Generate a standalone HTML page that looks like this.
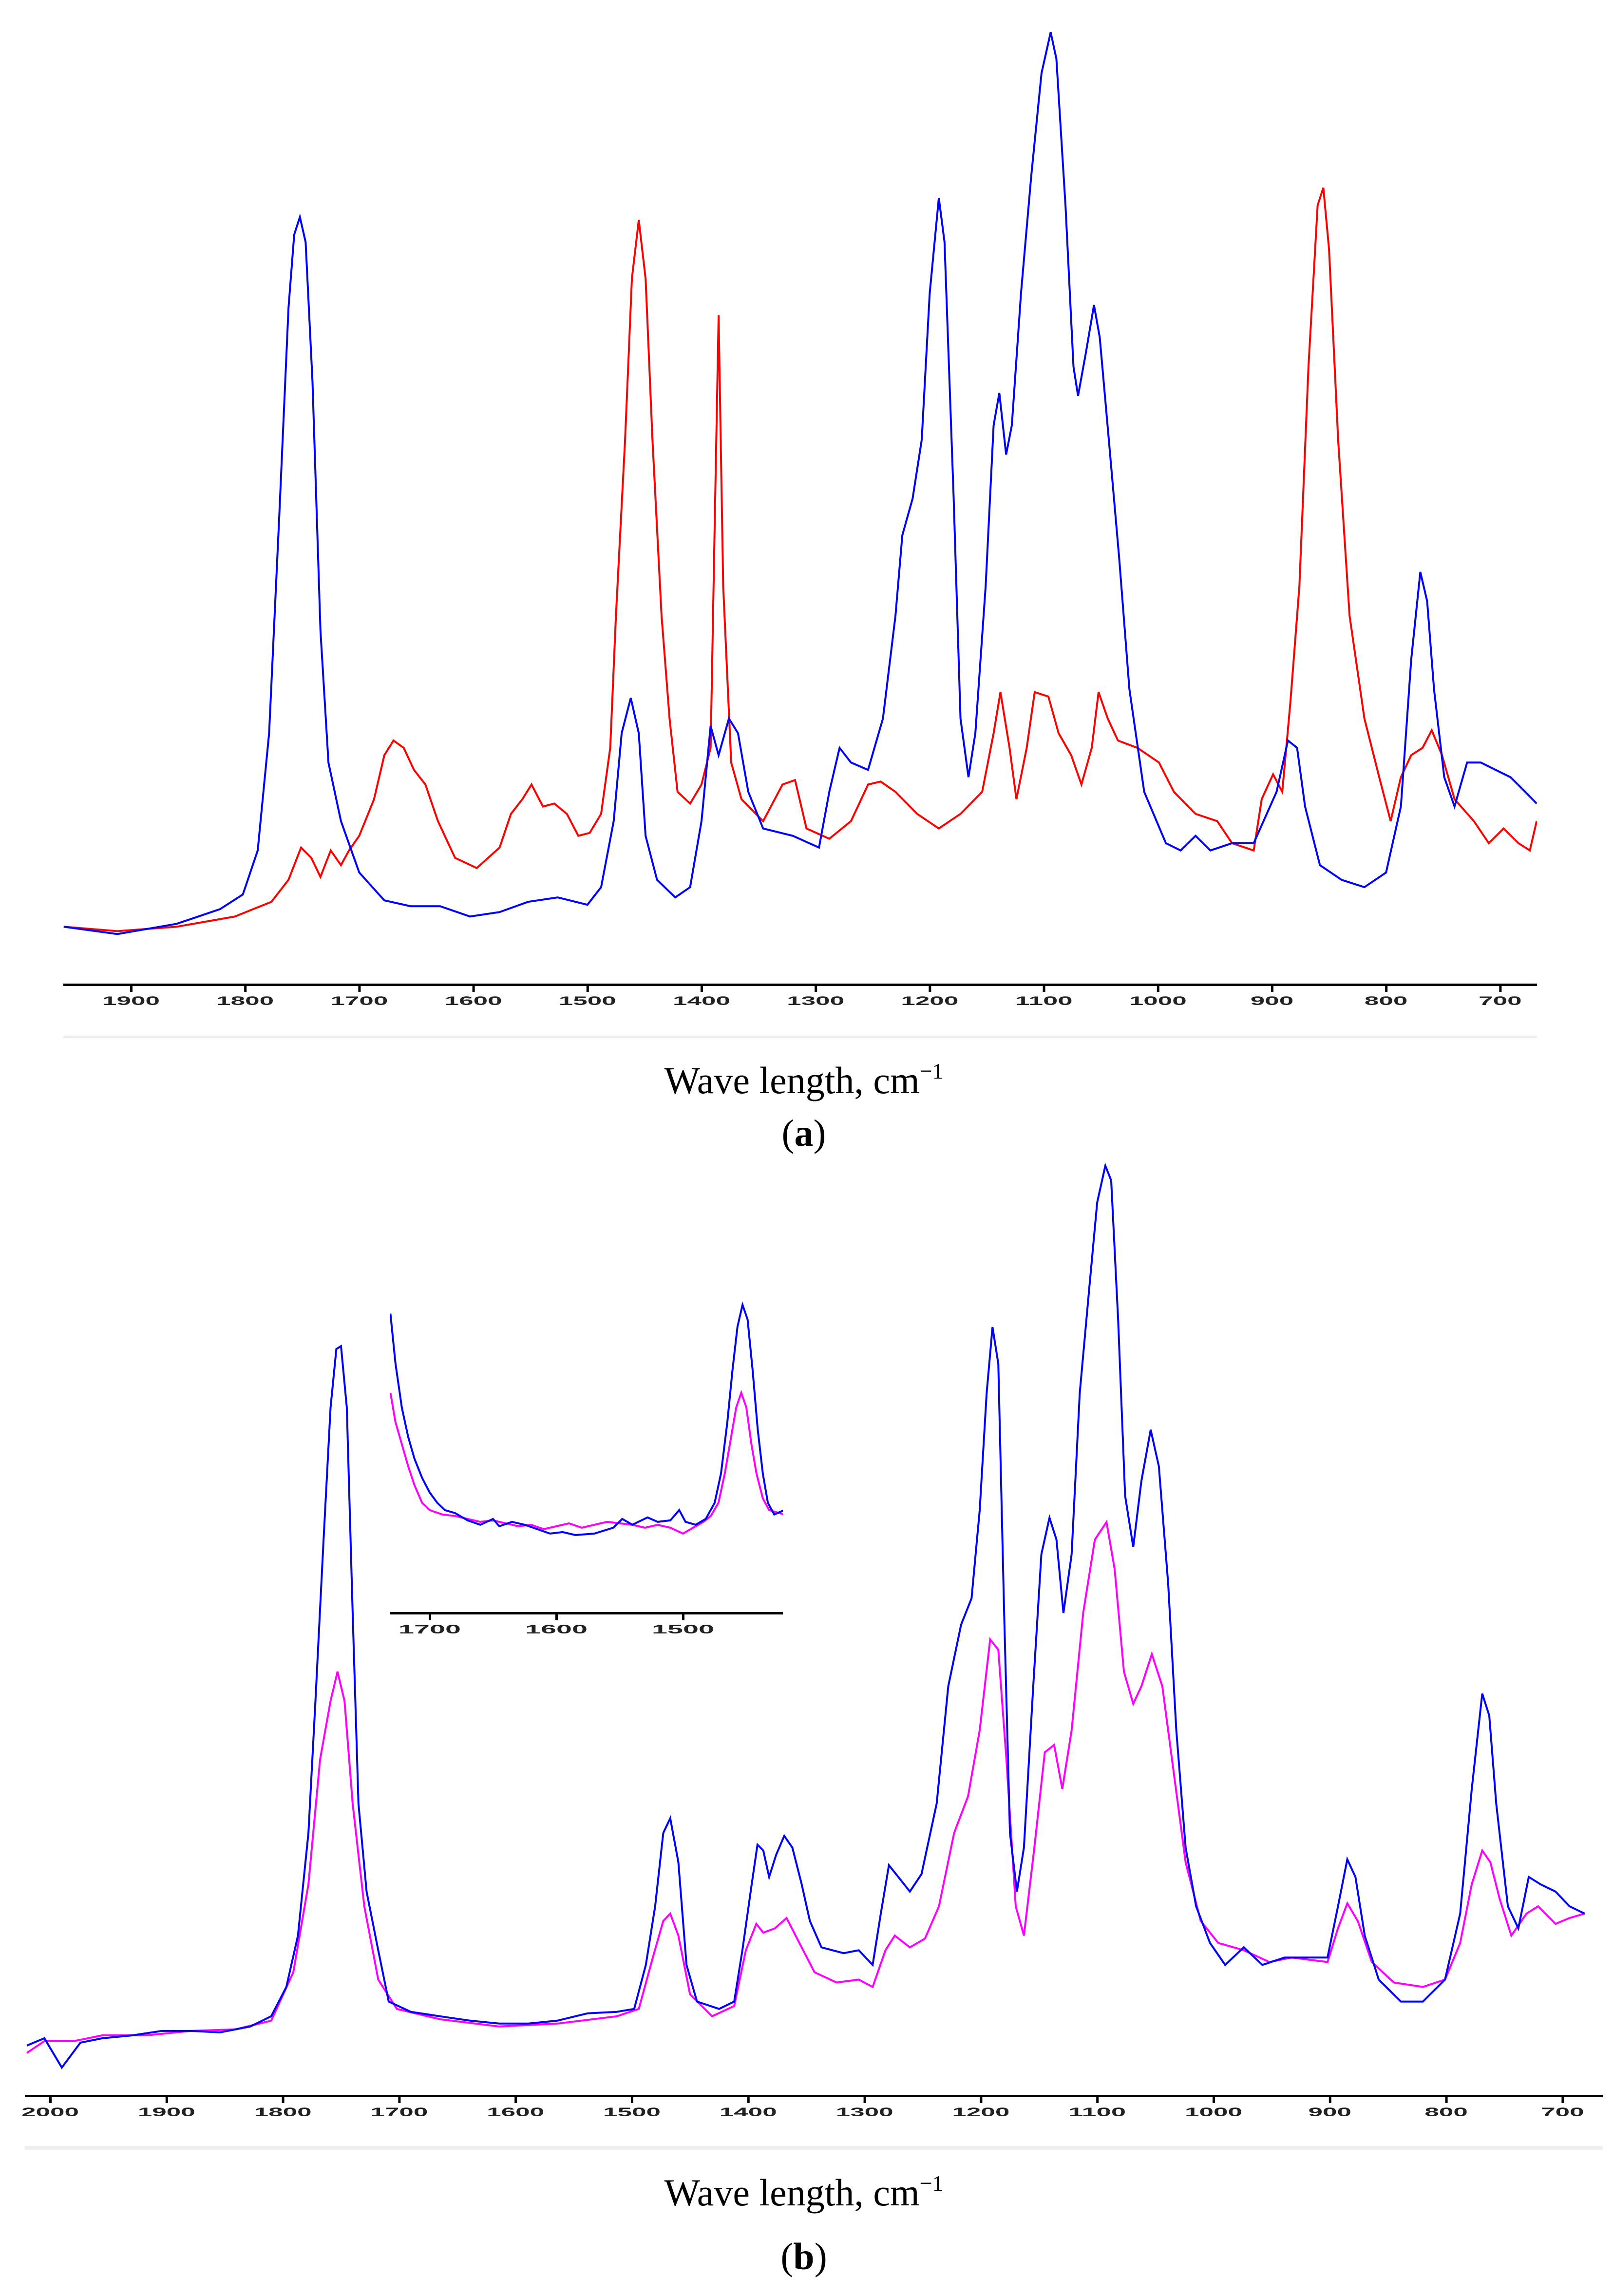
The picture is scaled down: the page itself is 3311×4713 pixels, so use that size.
<!DOCTYPE html>
<html><head><meta charset="utf-8"><style>
html,body{margin:0;padding:0;background:#fff;}
svg{display:block;}
.tick{font-family:"Liberation Sans",Arial,sans-serif;font-size:25px;font-weight:bold;fill:#222;}
.cap{font-family:"Liberation Serif",serif;font-size:78px;fill:#000;}
</style></head><body>
<svg id="chart" width="3311" height="4713" viewBox="0 0 3311 4713" xmlns="http://www.w3.org/2000/svg">
<g id="gA"></g>
<g id="gB"></g>
<g id="gI"></g>
<text class="cap" x="1650" y="2244" text-anchor="middle">Wave length, cm<tspan font-size="46" dy="-30">−1</tspan></text>
<text class="cap" x="1650" y="2352" text-anchor="middle">(<tspan font-weight="bold">a</tspan>)</text>
<text class="cap" x="1650" y="4527" text-anchor="middle">Wave length, cm<tspan font-size="46" dy="-30">−1</tspan></text>
<text class="cap" x="1650" y="4658" text-anchor="middle">(<tspan font-weight="bold">b</tspan>)</text>
</svg>
<script>
const ticksA=[1900,1800,1700,1600,1500,1400,1300,1200,1100,1000,900,800,700];
const ticksB=[2000,1900,1800,1700,1600,1500,1400,1300,1200,1100,1000,900,800,700];
const ticksI=[1700,1600,1500];
const blueAw=[1959,1912,1860,1822,1802,1789,1779,1770,1762,1757,1752,1747,1741,1734,1727,1716,1700,1678,1655,1629,1603,1577,1552,1526,1500,1488,1477,1470,1462,1455,1449,1439,1423,1410,1400,1392,1385,1376,1368,1359,1346,1320,1297,1288,1279,1269,1254,1241,1230,1224,1215,1207,1200,1192,1187,1179,1173,1166,1160,1151,1144,1139,1133,1128,1120,1111,1102,1094,1089,1081,1074,1070,1063,1056,1051,1043,1034,1025,1012,993,980,967,954,935,916,896,886,878,871,858,839,819,800,787,778,770,764,758,749,740,729,717,704,691,678,668];
const blueAv=[16,11,18,28,38,68,148,298,438,488,500,483,388,218,128,88,53,34,30,30,23,26,33,36,31,43,88,148,172,148,78,48,36,43,88,153,133,158,148,108,83,78,70,108,138,128,123,158,228,283,308,348,448,513,483,308,158,118,148,248,358,380,338,358,448,528,598,626,608,508,398,378,408,440,418,348,268,178,108,73,68,78,68,73,73,108,143,138,98,58,48,43,53,98,198,258,238,178,118,98,128,128,123,118,108,100];
const redAw=[1959,1912,1860,1809,1777,1762,1751,1742,1734,1725,1716,1709,1700,1687,1678,1670,1661,1652,1642,1631,1616,1597,1577,1567,1557,1549,1539,1529,1518,1508,1498,1488,1480,1475,1467,1461,1455,1449,1443,1435,1428,1421,1410,1400,1392,1389,1385,1381,1374,1365,1346,1329,1318,1308,1288,1269,1254,1243,1230,1211,1192,1173,1154,1144,1138,1130,1124,1115,1108,1096,1087,1076,1067,1058,1052,1044,1035,1018,999,986,967,948,935,916,909,899,891,884,876,868,860,855,850,842,832,819,806,796,787,778,768,760,751,740,723,710,697,684,674,668];
const redAv=[16,13,16,23,33,48,70,63,50,68,58,68,78,103,133,143,138,123,113,88,63,56,70,93,103,113,98,100,93,78,80,93,138,228,348,458,498,458,348,228,158,108,100,113,138,268,433,248,128,103,88,113,116,83,76,88,113,115,108,93,83,93,108,148,176,138,103,138,176,173,148,133,113,138,176,158,143,138,128,108,93,88,73,68,103,120,108,168,248,398,508,520,478,348,228,158,118,88,118,133,138,150,133,103,88,73,83,73,68,88];
const blueBw=[2020,2005,1990,1974,1955,1929,1904,1879,1854,1828,1810,1797,1787,1778,1772,1765,1759,1754,1750,1745,1740,1735,1728,1718,1709,1690,1665,1639,1614,1589,1564,1538,1513,1498,1488,1480,1473,1467,1460,1453,1444,1425,1412,1405,1397,1392,1387,1382,1376,1369,1362,1354,1347,1337,1318,1305,1293,1286,1279,1271,1261,1251,1238,1228,1217,1208,1201,1195,1190,1185,1180,1175,1169,1163,1155,1148,1141,1135,1129,1122,1115,1107,1100,1093,1088,1082,1076,1069,1062,1054,1047,1039,1032,1024,1015,1003,990,974,958,939,921,902,893,885,878,870,858,839,820,801,788,778,769,763,757,747,738,729,719,706,694,681];
const blueBv=[5,10,-10,7,10,12,15,15,14,18,25,45,80,150,240,350,440,480,482,440,300,170,110,70,35,28,25,22,20,20,22,27,28,30,60,100,150,160,130,60,35,30,35,70,115,142,138,120,135,148,140,115,90,72,68,70,60,95,128,120,110,122,170,250,292,310,370,450,495,470,300,150,110,140,250,340,365,350,300,340,450,520,580,605,595,500,380,345,390,425,400,320,220,140,100,75,60,72,60,65,65,65,100,132,120,80,50,35,35,50,95,180,245,230,170,100,85,120,115,110,100,95];
const magBw=[2020,2005,1980,1955,1917,1879,1841,1810,1791,1778,1768,1759,1753,1747,1740,1730,1718,1702,1665,1614,1564,1513,1494,1482,1473,1467,1460,1450,1431,1412,1402,1393,1387,1377,1367,1356,1343,1324,1305,1293,1282,1274,1261,1248,1236,1223,1211,1201,1192,1185,1178,1170,1163,1154,1145,1137,1130,1122,1112,1102,1092,1085,1077,1069,1062,1053,1044,1034,1024,1011,996,974,952,933,902,893,885,876,864,845,820,801,788,778,769,762,754,744,731,721,706,694,681];
const magBv=[0,8,8,12,12,15,16,22,55,115,200,240,260,240,170,100,50,30,23,18,20,25,30,65,90,95,80,40,25,32,70,88,82,85,92,75,55,48,50,45,70,80,72,78,100,150,175,220,282,275,200,100,80,140,205,210,180,220,300,350,362,330,260,238,250,272,250,190,130,90,75,70,62,65,62,85,102,90,62,48,45,50,75,115,138,130,105,80,95,100,88,92,95];
const blueIw=[1731,1727,1722,1717,1712,1706,1700,1694,1688,1680,1670,1660,1650,1645,1635,1625,1615,1605,1595,1585,1570,1555,1548,1540,1528,1520,1510,1503,1498,1490,1482,1475,1470,1465,1461,1457,1453,1449,1445,1441,1437,1433,1428,1420];
const blueIv=[154,120,90,70,55,42,32,25,20,18,13,10,14,9,12,10,7,4,5,3,4,8,14,10,15,12,13,20,12,10,14,25,45,80,115,145,160,150,115,75,45,25,17,20];
const magIw=[1731,1727,1722,1717,1712,1706,1700,1690,1680,1670,1660,1650,1640,1630,1620,1610,1600,1590,1580,1570,1560,1550,1540,1530,1520,1510,1500,1492,1484,1478,1472,1467,1462,1458,1454,1450,1446,1442,1437,1432,1420];
const magIv=[100,80,65,50,37,25,20,17,16,14,12,13,11,9,10,7,9,11,8,10,12,11,10,8,10,8,4,8,12,16,25,45,70,90,100,90,65,45,28,20,17];

const NS="http://www.w3.org/2000/svg";
function mk(tag,attrs,parent){const e=document.createElementNS(NS,tag);for(const k in attrs)e.setAttribute(k,attrs[k]);parent.appendChild(e);return e;}

const xA=w=>269+(1900-w)*2.342, yA=v=>1950.5-3.01*v;
const xB=w=>103+(2000-w)*2.388, yB=v=>4214-3.01*v;
const xI=w=>882+(1700-w)*2.6, yI=v=>3160-3.01*v;

function series(g,ws,vs,fx,fy,color,name,clip){
  const d=ws.map((w,i)=>(i?'L':'M')+fx(w).toFixed(1)+','+fy(vs[i]).toFixed(1)).join('');
  const p=mk('path',{d:d,fill:'none',stroke:color,'stroke-width':4,'stroke-linejoin':'miter','clip-path':'url(#'+clip+')'},g);
  
  
}
function axis(g,x0,x1,y,ticks,fx,name,perChar,lblDy){
  const ax=mk('g',{},g);
  
  
  mk('rect',{x:x0,y:y-2,width:x1-x0,height:5,fill:'#000'},ax);
  ticks.forEach(t=>{
    const x=fx(t);
    const s=String(t);
    mk('rect',{x:x-2,y:y+3,width:5,height:12,fill:'#000'},ax);
    const tx=mk('text',{x:x,y:y+lblDy,'text-anchor':'middle',class:'tick',textLength:perChar*s.length,lengthAdjust:'spacingAndGlyphs'},ax);
    
    
    tx.textContent=s;
  });
}
const svg=document.getElementById('chart');
const defs=mk('defs',{},svg);
const c1=mk('clipPath',{id:'cA'},defs);mk('rect',{x:130,y:0,width:3025,height:2015},c1);
const c2=mk('clipPath',{id:'cB'},defs);mk('rect',{x:51,y:2300,width:3239,height:2000},c2);
const c3=mk('clipPath',{id:'cI'},defs);mk('rect',{x:800,y:2600,width:807,height:700},c3);

const gA=document.getElementById('gA'),gB=document.getElementById('gB'),gI=document.getElementById('gI');
axis(gA,130,3155,2021,ticksA,xA,'x-axis-a',29.5,42);
const sepA=mk('rect',{x:130,y:2126,width:3025,height:5,fill:'#eeeeee'},gA);


series(gA,redAw,redAv,xA,yA,'#ff0000','red-spectrum-a','cA');
series(gA,blueAw,blueAv,xA,yA,'#0000ff','blue-spectrum-a','cA');
axis(gB,51,3290,4302,ticksB,xB,'x-axis-b',29.5,42);
const sepB=mk('rect',{x:51,y:4405,width:3239,height:8,fill:'#eeeeee'},gB);


series(gB,magBw,magBv,xB,yB,'#ff00ff','magenta-spectrum-b','cB');
series(gB,blueBw,blueBv,xB,yB,'#0000ff','blue-spectrum-b','cB');
axis(gI,800,1607,3311,ticksI,xI,'x-axis-inset',32,42);
series(gI,magIw,magIv,xI,yI,'#ff00ff','magenta-spectrum-inset','cI');
series(gI,blueIw,blueIv,xI,yI,'#0000ff','blue-spectrum-inset','cI');
</script>
</body></html>
